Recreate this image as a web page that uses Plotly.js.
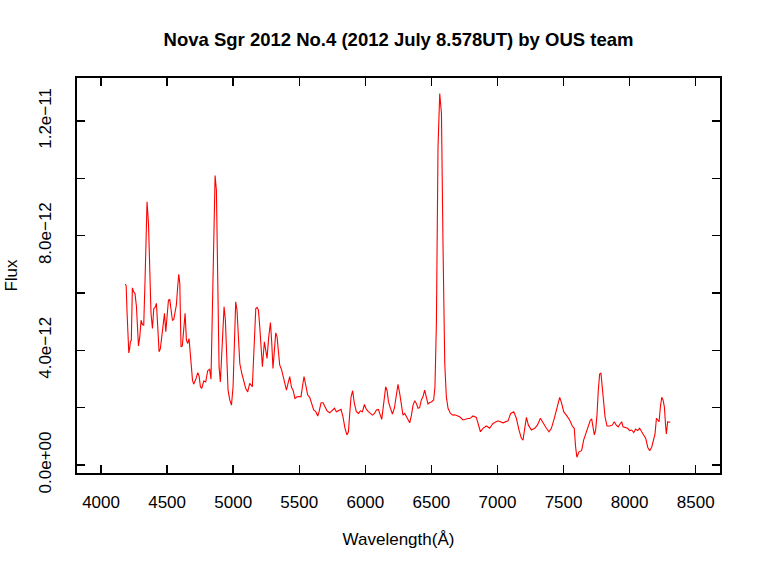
<!DOCTYPE html>
<html>
<head>
<meta charset="utf-8">
<script src="https://cdn.plot.ly/plotly-3.0.1.min.js"></script>
<style>html,body{margin:0;padding:0;background:#fff;}#chart{width:760px;height:570px;}</style>
</head>
<body>
<div id="chart"></div>
<script>
// Wavelength (Angstrom)
const wavelength = [
4184,4190,4197,4210,4216,4222,4229,4237,4247,4257,4268,4283,4293,4303,4313,4323,4333,4348,4359,4368,
4378,4389,4399,4409,4419,4429,4439,4449,4459,4469,4480,4490,4500,4510,4520,4530,4540,4550,4560,4570,
4580,4588,4596,4605,4615,4626,4636,4646,4656,4666,4676,4692,4701,4717,4732,4742,4752,4762,4777,4792,
4807,4822,4832,4843,4853,4863,4873,4883,4893,4903,4913,4923,4931,4941,4949,4961,4974,4987,4999,5009,
5019,5029,5040,5050,5065,5080,5095,5110,5125,5145,5155,5171,5181,5191,5201,5211,5221,5236,5246,5256,
5269,5282,5292,5301,5312,5322,5332,5342,5352,5367,5377,5392,5403,5415,5428,5441,5453,5468,5483,5498,
5513,5524,5536,5549,5564,5579,5594,5609,5625,5640,5650,5665,5680,5695,5710,5731,5751,5766,5781,5801,
5816,5831,5846,5861,5872,5882,5892,5904,5917,5932,5948,5963,5978,5993,6008,6023,6038,6054,6069,6084,
6099,6114,6124,6139,6154,6164,6175,6190,6205,6220,6235,6247,6260,6273,6285,6298,6311,6323,6336,6349,
6361,6374,6386,6399,6411,6424,6436,6449,6462,6474,6487,6500,6517,6527,6538,6550,6563,6576,6588,6601,
6613,6626,6644,6663,6676,6701,6714,6739,6752,6777,6790,6815,6840,6853,6871,6890,6916,6941,6966,7004,
7042,7080,7100,7123,7143,7163,7181,7193,7206,7219,7234,7257,7282,7302,7325,7345,7370,7390,7408,7433,
7450,7471,7486,7501,7521,7546,7566,7581,7591,7601,7617,7637,7652,7667,7685,7703,7713,7723,7733,7743,
7753,7763,7773,7783,7793,7804,7814,7829,7849,7869,7884,7899,7914,7930,7940,7950,7965,7985,8000,8016,
8031,8046,8061,8076,8091,8106,8122,8137,8152,8167,8182,8192,8203,8215,8223,8233,8243,8253,8263,8273,
8278,8288,8298,8308
];
// Flux
const flux = [
6.31e-12,6.25e-12,5.29e-12,3.91e-12,4.05e-12,4.30e-12,4.35e-12,6.18e-12,6.04e-12,5.98e-12,5.52e-12,4.15e-12,4.47e-12,5.05e-12,4.90e-12,4.88e-12,6.45e-12,9.18e-12,8.42e-12,6.45e-12,
5.29e-12,4.76e-12,5.46e-12,5.50e-12,5.64e-12,4.82e-12,3.95e-12,4.06e-12,4.47e-12,4.99e-12,5.29e-12,4.65e-12,5.29e-12,5.75e-12,5.77e-12,5.40e-12,5.05e-12,5.07e-12,5.31e-12,5.58e-12,
6.22e-12,6.65e-12,6.33e-12,4.12e-12,4.15e-12,4.82e-12,5.29e-12,4.36e-12,4.24e-12,4.41e-12,3.89e-12,2.96e-12,2.82e-12,2.99e-12,3.22e-12,3.10e-12,2.73e-12,2.67e-12,2.93e-12,2.90e-12,
3.29e-12,3.34e-12,2.99e-12,5.29e-12,8.19e-12,10.1e-12,9.58e-12,6.45e-12,3.43e-12,2.90e-12,3.89e-12,5.29e-12,5.52e-12,5.05e-12,4.12e-12,2.61e-12,2.27e-12,2.09e-12,2.73e-12,4.36e-12,
5.69e-12,5.40e-12,4.36e-12,3.54e-12,3.20e-12,2.96e-12,2.67e-12,2.55e-12,2.85e-12,2.73e-12,3.66e-12,5.46e-12,5.50e-12,5.40e-12,4.82e-12,4.01e-12,3.43e-12,4.30e-12,4.01e-12,3.72e-12,
4.47e-12,4.97e-12,4.24e-12,3.37e-12,4.01e-12,4.61e-12,4.47e-12,4.01e-12,3.49e-12,3.31e-12,3.14e-12,2.79e-12,2.61e-12,2.85e-12,3.08e-12,2.71e-12,2.61e-12,2.32e-12,2.38e-12,2.39e-12,
2.38e-12,2.73e-12,3.08e-12,2.79e-12,2.44e-12,2.36e-12,2.15e-12,1.92e-12,1.86e-12,1.71e-12,1.86e-12,2.17e-12,2.17e-12,2.03e-12,1.89e-12,1.82e-12,1.92e-12,1.98e-12,1.86e-12,1.92e-12,
1.94e-12,1.68e-12,1.28e-12,1.05e-12,1.16e-12,1.80e-12,2.38e-12,2.59e-12,2.15e-12,1.86e-12,1.80e-12,1.89e-12,1.86e-12,2.11e-12,1.94e-12,1.86e-12,1.80e-12,1.74e-12,1.80e-12,1.92e-12,
1.94e-12,1.68e-12,1.59e-12,2.15e-12,2.73e-12,2.61e-12,2.21e-12,1.98e-12,1.78e-12,1.98e-12,2.55e-12,2.81e-12,2.50e-12,2.03e-12,1.74e-12,1.80e-12,1.68e-12,1.57e-12,1.47e-12,1.74e-12,
2.09e-12,2.24e-12,2.15e-12,1.98e-12,2.00e-12,2.27e-12,2.38e-12,2.61e-12,2.36e-12,2.13e-12,2.18e-12,2.20e-12,2.27e-12,2.73e-12,5.00e-12,11.09e-12,12.96e-12,12.26e-12,7.61e-12,3.54e-12,
2.38e-12,1.98e-12,1.80e-12,1.74e-12,1.75e-12,1.71e-12,1.68e-12,1.57e-12,1.59e-12,1.62e-12,1.62e-12,1.71e-12,1.66e-12,1.45e-12,1.16e-12,1.28e-12,1.36e-12,1.28e-12,1.45e-12,1.54e-12,
1.47e-12,1.54e-12,1.80e-12,1.86e-12,1.63e-12,1.22e-12,0.93e-12,0.87e-12,1.33e-12,1.66e-12,1.39e-12,1.22e-12,1.28e-12,1.39e-12,1.63e-12,1.45e-12,1.28e-12,1.16e-12,1.28e-12,1.68e-12,
2.03e-12,2.36e-12,2.15e-12,1.86e-12,1.74e-12,1.57e-12,1.36e-12,1.28e-12,0.64e-12,0.27e-12,0.46e-12,0.50e-12,0.87e-12,1.08e-12,1.28e-12,1.57e-12,1.60e-12,1.28e-12,1.05e-12,1.22e-12,
1.74e-12,2.61e-12,3.17e-12,3.20e-12,2.73e-12,2.15e-12,1.68e-12,1.36e-12,1.36e-12,1.39e-12,1.51e-12,1.39e-12,1.33e-12,1.45e-12,1.51e-12,1.33e-12,1.30e-12,1.28e-12,1.20e-12,1.22e-12,
1.13e-12,1.25e-12,1.20e-12,1.28e-12,1.16e-12,1.05e-12,0.93e-12,0.62e-12,0.50e-12,0.62e-12,0.87e-12,1.08e-12,1.63e-12,1.57e-12,1.51e-12,2.03e-12,2.36e-12,2.27e-12,2.03e-12,1.33e-12,
1.08e-12,1.51e-12,1.49e-12,1.50e-12
];
const xTickVals = [4000,4500,5000,5500,6000,6500,7000,7500,8000,8500];
const xTickText = ["4000","4500","5000","5500","6000","6500","7000","7500","8000","8500"];
const yTickVals = [0,2e-12,4e-12,6e-12,8e-12,1e-11,1.2e-11];
const yTickText = ["0.0e+00","","4.0e\u221212","","8.0e\u221212","","1.2e\u221211"];

const font = "Liberation Sans, Arial, Helvetica, sans-serif";
const trace = {
  x: wavelength, y: flux, type: "scatter", mode: "lines",
  line: {color: "#ff0000", width: 1.1}, hoverinfo: "skip"
};
const layout = {
  width: 760, height: 570,
  margin: {l: 77.3, r: 39.7, t: 77.7, b: 97, pad: 0},
  paper_bgcolor: "#ffffff", plot_bgcolor: "#ffffff",
  showlegend: false,
  font: {family: font, color: "#000000", size: 17},
  title: {text: "<b>Nova Sgr 2012 No.4 (2012 July 8.578UT) by OUS team</b>",
          font: {family: font, size: 18.5, color: "#000"},
          x: 0.5, xanchor: "center", xref: "paper", y: 1 - 40/570, yref: "container", yanchor: "middle"},
  xaxis: {
    range: [3818, 8684], showgrid: false, zeroline: false,
    showline: true, linecolor: "#000", linewidth: 2, mirror: "allticks",
    ticks: "inside", ticklen: 8, tickwidth: 1.5, tickcolor: "#000",
    tickmode: "array", tickvals: xTickVals, ticktext: xTickText,
    ticklabelstandoff: 13,
    tickfont: {family: font, size: 17, color: "#000"},
    title: {text: "Wavelength(Å)", font: {family: font, size: 17, color: "#000"}, standoff: 22}
  },
  yaxis: {
    range: [-0.279e-12, 13.5e-12], showgrid: false, zeroline: false,
    showline: true, linecolor: "#000", linewidth: 2, mirror: "allticks",
    ticks: "inside", ticklen: 8, tickwidth: 1.5, tickcolor: "#000",
    tickmode: "array", tickvals: yTickVals, ticktext: yTickText,
    tickangle: -90, ticklabelstandoff: 17,
    tickfont: {family: font, size: 17, color: "#000"},
    title: {text: "Flux", font: {family: font, size: 17, color: "#000"}, standoff: 14}
  }
};
Plotly.newPlot("chart", [trace], layout, {displayModeBar: false, staticPlot: true});
</script>
</body>
</html>
